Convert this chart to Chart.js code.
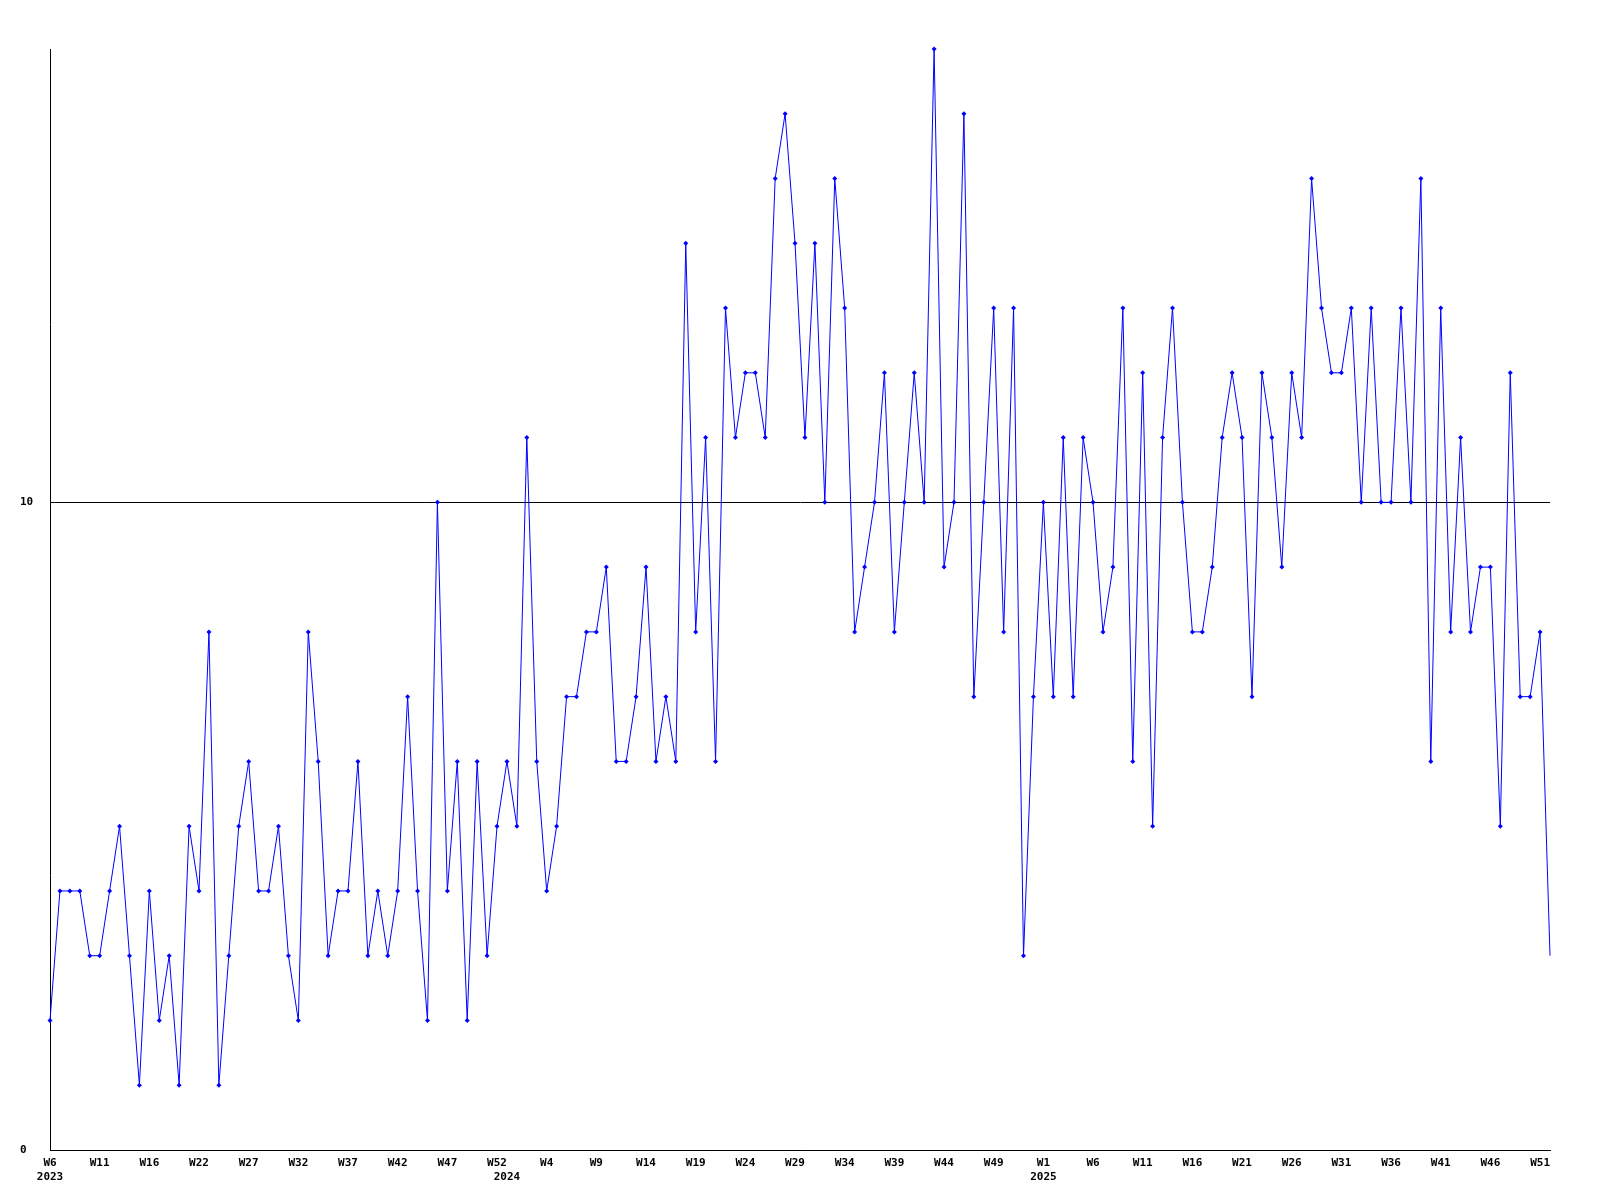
<!DOCTYPE html>
<html>
<head>
<meta charset="utf-8">
<script src="https://cdn.jsdelivr.net/npm/chart.js@4/dist/chart.umd.min.js"></script>
<style>
  html, body { margin: 0; padding: 0; background: #ffffff; }
  #wrap { width: 1600px; height: 1200px; }
</style>
</head>
<body>
<div id="wrap"><canvas id="c" width="1600" height="1200"></canvas></div>
<script>
// Weekly values, W6 2023 ... end of 2025
const values = [
  2,4,4,4,3,3,4,5,3,1,4,2,3,1,5,4,8,1,3,5,
  6,4,4,5,3,2,8,6,3,4,4,6,3,4,3,4,7,4,2,
  10,4,6,2,6,3,5,6,5,11,6,4,5,7,7,8,8,9,6,
  6,7,9,6,7,6,14,8,11,6,13,11,12,12,11,15,16,14,11,
  14,10,15,13,8,9,10,12,8,10,12,10,17,9,10,16,7,10,13,
  8,13,3,7,10,7,11,7,11,10,8,9,13,6,12,5,11,13,10,
  8,8,9,11,12,11,7,12,11,9,12,11,15,13,12,12,13,10,13,
  10,10,13,10,15,6,13,8,11,8,9,9,5,12,7,7,8,3
];
// Week tick labels, shown every 5th point
const weekTicks = ['W6','W11','W16','W22','W27','W32','W37','W42','W47','W52',
  'W4','W9','W14','W19','W24','W29','W34','W39','W44','W49',
  'W1','W6','W11','W16','W21','W26','W31','W36','W41','W46','W51'];
const weekTickStep = 5;
// Year labels and the point index where each appears
const yearLabels = ['2023','2024','2025'];
const yearIndex = [0, 46, 100];
// Y axis ticks
const yTicks = [0, 10];
const yMax = 17;

const labels = values.map((v, i) => {
  const w = (i % weekTickStep === 0 && weekTicks[i / weekTickStep]) ? weekTicks[i / weekTickStep] : '';
  const yi = yearIndex.indexOf(i);
  const y = yi >= 0 ? yearLabels[yi] : '';
  return [w, y];
});

const FONT = { family: "'DejaVu Sans Mono', monospace", size: 11, weight: 'bold', lineHeight: 1.3 };

new Chart(document.getElementById('c'), {
  type: 'line',
  data: {
    labels: labels,
    datasets: [{
      data: values,
      borderColor: '#0000ff',
      backgroundColor: '#0000ff',
      borderWidth: 1,
      tension: 0,
      pointStyle: 'rectRot',
      pointRadius: (ctx) => ctx.dataIndex === values.length - 1 ? 0 : 2.5,
      pointBorderWidth: 0,
      pointBackgroundColor: '#0000ff',
      clip: false,
      fill: false
    }]
  },
  options: {
    responsive: false,
    animation: false,
    layout: { padding: { left: 20, right: 50, top: 49, bottom: 0 } },
    plugins: { legend: { display: false }, tooltip: { enabled: false }, title: { display: false } },
    scales: {
      x: {
        type: 'category',
        offset: false,
        grid: { display: false, drawTicks: false },
        border: { display: true, color: '#000000', width: 1 },
        ticks: {
          autoSkip: false,
          maxRotation: 0,
          minRotation: 0,
          padding: 6,
          color: '#000000',
          font: FONT
        },
        afterFit: (s) => { s.height = 50; }
      },
      y: {
        min: 0,
        max: yMax,
        grid: { color: '#000000', lineWidth: 1, drawTicks: false },
        border: { display: true, color: '#000000', width: 1 },
        ticks: {
          color: '#000000',
          font: FONT,
          crossAlign: 'far',
          padding: 0
        },
        afterBuildTicks: (axis) => { axis.ticks = yTicks.map(v => ({ value: v })); },
        afterFit: (s) => { s.width = 30; }
      }
    }
  }
});
</script>
</body>
</html>
